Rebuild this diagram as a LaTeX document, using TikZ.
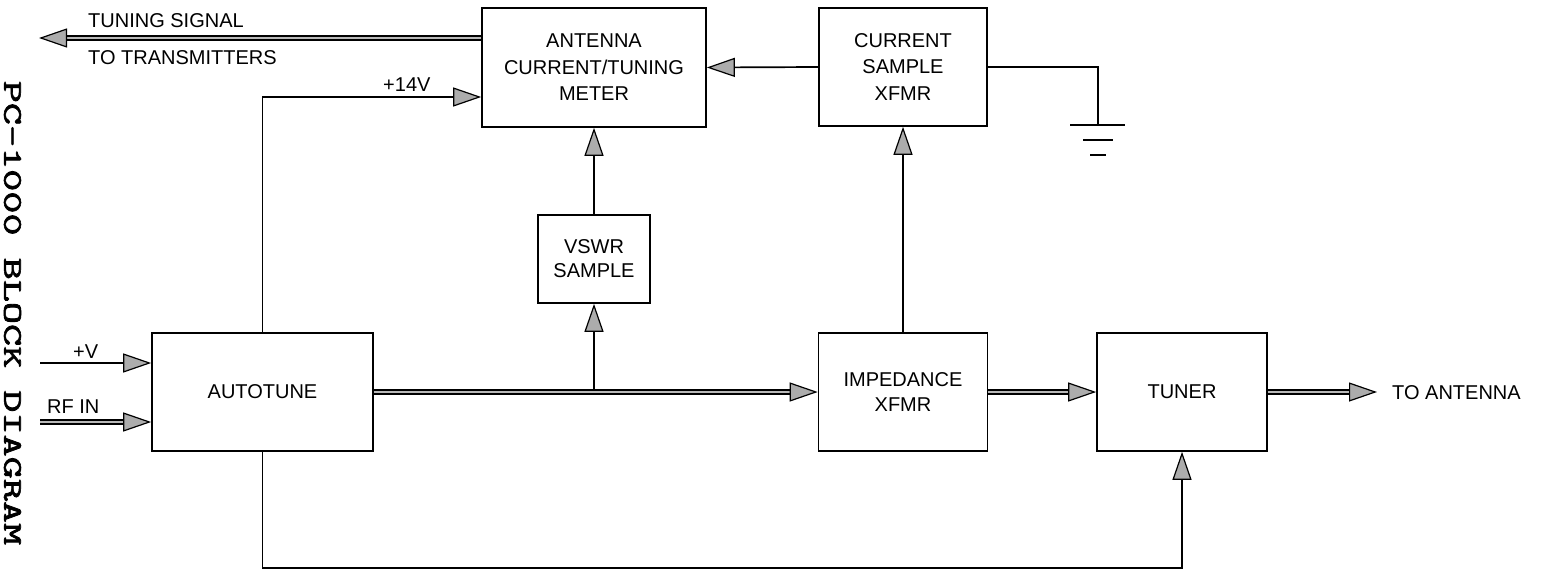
\documentclass[tikz,border=0pt]{standalone}
\usepackage{graphicx}
\usepackage{fontspec}
\setmainfont{Liberation Sans}
\newfontfamily\titlefont{lmmono10-regular.otf}[FakeBold=2]
\usetikzlibrary{arrows.meta}
\newcommand\lbl{\fontsize{20}{26}\selectfont}
\tikzset{
  hd/.tip={Triangle[length=28pt,width=19pt,color=black,fill=gray!65,line width=1.2pt]},
  sig/.style={line width=1.7pt,-hd},
  wire/.style={line width=1.7pt},
  dbl/.style={line width=1.7pt,double=gray!55,double distance=1.8pt,-hd},
  blk/.style={draw,line width=1.6pt,inner sep=0pt,align=center,font=\lbl},
  lab/.style={inner sep=0pt,font=\lbl,anchor=west},
}
\begin{document}
\begin{tikzpicture}[x=1pt,y=-1pt]
\path[use as bounding box,fill=white] (0,0) rectangle (1546,570);

% title
\node[rotate=-90,inner sep=0pt] (title) at (12.5,313)
  {\scalebox{1.56}[1]{\titlefont\fontsize{27}{30}\selectfont PC-1000 BLOCK DIAGRAM}};

% blocks
\node[blk,minimum width=224pt,minimum height=119pt,font={\fontsize{20}{26.5}\selectfont}] (ant) at (594,67.5) {ANTENNA\\CURRENT/TUNING\\METER};
\node[blk,minimum width=168pt,minimum height=118pt,font={\fontsize{20}{26.5}\selectfont}] (cur) at (903,67) {CURRENT\\SAMPLE\\XFMR};
\node[blk,minimum width=112pt,minimum height=88pt,font={\fontsize{20}{24}\selectfont}] (vswr) at (594,259) {VSWR\\SAMPLE};
\node[blk,minimum width=221pt,minimum height=118pt] (auto) at (262.5,392) {AUTOTUNE};
\node[blk,minimum width=169pt,minimum height=118pt,font={\fontsize{20}{25}\selectfont}] (imp) at (903,392) {IMPEDANCE\\XFMR};
\node[blk,minimum width=170pt,minimum height=118pt] (tun) at (1182,392) {TUNER};

% free ends
\coordinate (tsig) at (39,38);
\coordinate (p14) at (263,97);
\coordinate (vin) at (40,363);
\coordinate (rfin) at (40,422);
\coordinate (bot) at (0,568);
\coordinate (toant) at (1377,392);
\coordinate (gnd) at (1098,125);

% labels
\node[lab] (ltsig) at (88,21) {TUNING SIGNAL};
\node[lab] (ltx) at (88,58) {TO TRANSMITTERS};
\node[lab] (l14) at (383,85) {+14V};
\node[lab] (lv) at (73,352) {+V};
\node[lab] (lrf) at (47,407) {RF IN};
\node[lab] (lant) at (1392,393) {TO ANTENNA};

% connectors
\draw[dbl] (ant.west |- tsig) -- (tsig);
\draw[sig] (auto.north) |- (p14 -| ant.west);
\draw[sig] (cur.west) -- (ant.east);
\draw[wire] (cur.east) -| (gnd);
\draw[wire] ([xshift=-28pt]gnd) -- ([xshift=27pt]gnd);
\draw[wire] ([xshift=-15pt,yshift=-15pt]gnd) -- ([xshift=15pt,yshift=-15pt]gnd);
\draw[wire] ([xshift=-8pt,yshift=-30pt]gnd) -- ([xshift=8pt,yshift=-30pt]gnd);
\draw[sig] (vswr.north) -- (ant.south);
\draw[sig] (vswr.south |- auto.east) -- (vswr.south);
\draw[sig] (imp.north) -- (cur.south);
\draw[sig] (vin) -- (vin -| auto.west);
\draw[dbl] (rfin) -- (rfin -| auto.west);
\draw[dbl] (auto.east) -- (imp.west);
\draw[dbl] (imp.east) -- (tun.west);
\draw[dbl] (tun.east) -- (toant);
\draw[sig] (auto.south) -- (auto.south |- bot) -| (tun.south);
\end{tikzpicture}
\end{document}
